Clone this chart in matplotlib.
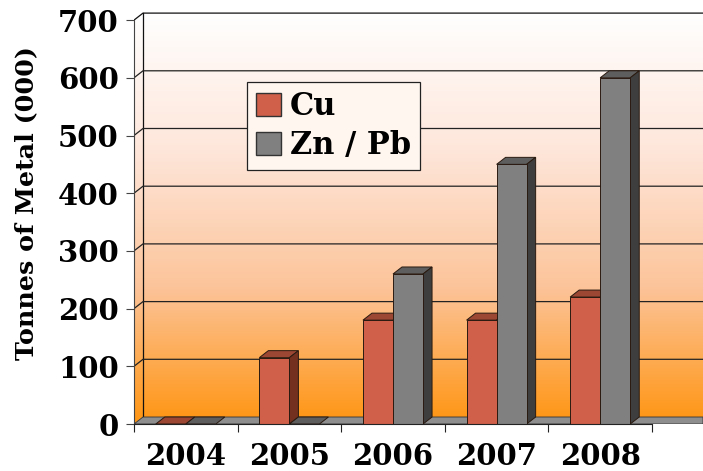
import numpy as np
import matplotlib.pyplot as plt
from matplotlib.patches import Polygon, Rectangle, Patch
from matplotlib.colors import LinearSegmentedColormap

years = ["2004", "2005", "2006", "2007", "2008"]
cu = [0, 115, 180, 180, 220]
znpb = [0, 0, 260, 450, 600]
yticks = [0, 100, 200, 300, 400, 500, 600, 700]

W, H = 703, 471
fig = plt.figure(figsize=(W / 100, H / 100), dpi=100)
# axes: x 0..5 spans px 134..652, y 0..700 spans px 424..20
left_px, bot_px, top_px = 134, 424, 10
ax = fig.add_axes([left_px / W, (H - bot_px) / H, 1 - left_px / W, (bot_px - top_px) / H])
xpx = 103.6
ypx = 0.577
xmax = (W - left_px) / xpx
ymax = (bot_px - top_px) / ypx
ax.set_xlim(0, xmax)
ax.set_ylim(0, ymax)

dx = 9 / xpx
dy = 7 / ypx

# gradient walls
cmap = LinearSegmentedColormap.from_list("bg", ["#FF9512", "#FCC49A", "#FEE6DA", "#FFFFFF"])
grad = np.linspace(0, 1, 256).reshape(-1, 1)
wall = Polygon([(0, 0), (dx, dy), (xmax, dy), (xmax, 700 + dy), (dx, 700 + dy), (0, 700)],
               closed=True, facecolor="none", edgecolor="none")
ax.add_patch(wall)
im = ax.imshow(grad, cmap=cmap, origin="lower", aspect="auto",
               extent=[0, xmax, 0, 700 + dy], zorder=0)
im.set_clip_path(wall)

# wall edges
ax.plot([dx, dx], [dy, 700 + dy], color="#111111", lw=0.9, zorder=1)
ax.plot([0, dx, xmax], [700, 700 + dy, 700 + dy], color="#111111", lw=0.9, zorder=1)

# gridlines
for v in yticks[1:-1]:
    ax.plot([0, dx, xmax], [v, v + dy, v + dy], color="#222222", lw=0.9, zorder=1)

# floor
floor = Polygon([(0, 0), (dx, dy), (xmax, dy), (xmax, 0)], closed=True,
                facecolor="#8E8E8E", edgecolor="#333333", lw=0.6, zorder=2)
ax.add_patch(floor)

bw = 0.29


def bar3d(x0, v, front, top, side):
    ax.add_patch(Polygon([(x0, v), (x0 + dx, v + dy), (x0 + bw + dx, v + dy), (x0 + bw, v)],
                         closed=True, facecolor=top, edgecolor="#2a1a10", lw=0.7, zorder=3))
    if v > 0:
        ax.add_patch(Polygon([(x0 + bw, 0), (x0 + bw + dx, dy), (x0 + bw + dx, v + dy), (x0 + bw, v)],
                             closed=True, facecolor=side, edgecolor="#2a1a10", lw=0.7, zorder=3))
        ax.add_patch(Rectangle((x0, 0), bw, v, facecolor=front, edgecolor="#2a1a10",
                               lw=0.7, zorder=3))


for i in range(len(years)):
    bar3d(i + 0.21, cu[i], "#D0604A", "#9C4634", "#73301F")
    bar3d(i + 0.5, znpb[i], "#808080", "#5E5E5E", "#3E3E3E")

# axes styling
for s in ["top", "right"]:
    ax.spines[s].set_visible(False)
ax.spines["left"].set_bounds(0, 700)
ax.spines["bottom"].set_bounds(0, 5)
ax.spines["left"].set_color("#444444")
ax.spines["bottom"].set_color("#222222")
ax.spines["bottom"].set_zorder(4)

ax.set_yticks(yticks)
ax.set_yticklabels([str(t) for t in yticks], fontfamily="DejaVu Serif",
                   fontweight="heavy", fontsize=21)
ax.tick_params(axis="y", length=6, color="#444444", pad=5)

ax.set_xticks(range(6))
ax.set_xticklabels([""] * 6)
ax.set_xticks([i + 0.5 for i in range(5)], minor=True)
ax.set_xticklabels(years, minor=True, fontfamily="DejaVu Serif", fontweight="heavy", fontsize=21)
ax.tick_params(axis="x", which="major", length=6, color="#222222")
ax.tick_params(axis="x", which="minor", length=0, pad=13)

ax.set_ylabel("Tonnes of Metal (000)", fontfamily="DejaVu Serif", fontweight="bold",
              fontsize=18.3)
ax.yaxis.set_label_coords(-0.168, 0.534)

handles = [Patch(facecolor="#D0604A", edgecolor="#333333", label="Cu"),
           Patch(facecolor="#808080", edgecolor="#333333", label="Zn / Pb")]
leg = ax.legend(handles=handles, loc="upper left",
                bbox_to_anchor=(247 / W, 1 - 82 / H), bbox_transform=fig.transFigure,
                borderaxespad=0,
                prop={"family": "DejaVu Serif", "weight": "bold", "size": 22},
                frameon=True, fancybox=False, edgecolor="#222222", facecolor="#FFF6F0",
                framealpha=1, handlelength=0.8, handleheight=0.8, handletextpad=0.3,
                borderpad=0.3, labelspacing=0.25)
leg.get_frame().set_linewidth(0.9)

fig.savefig("out.png", dpi=100)
